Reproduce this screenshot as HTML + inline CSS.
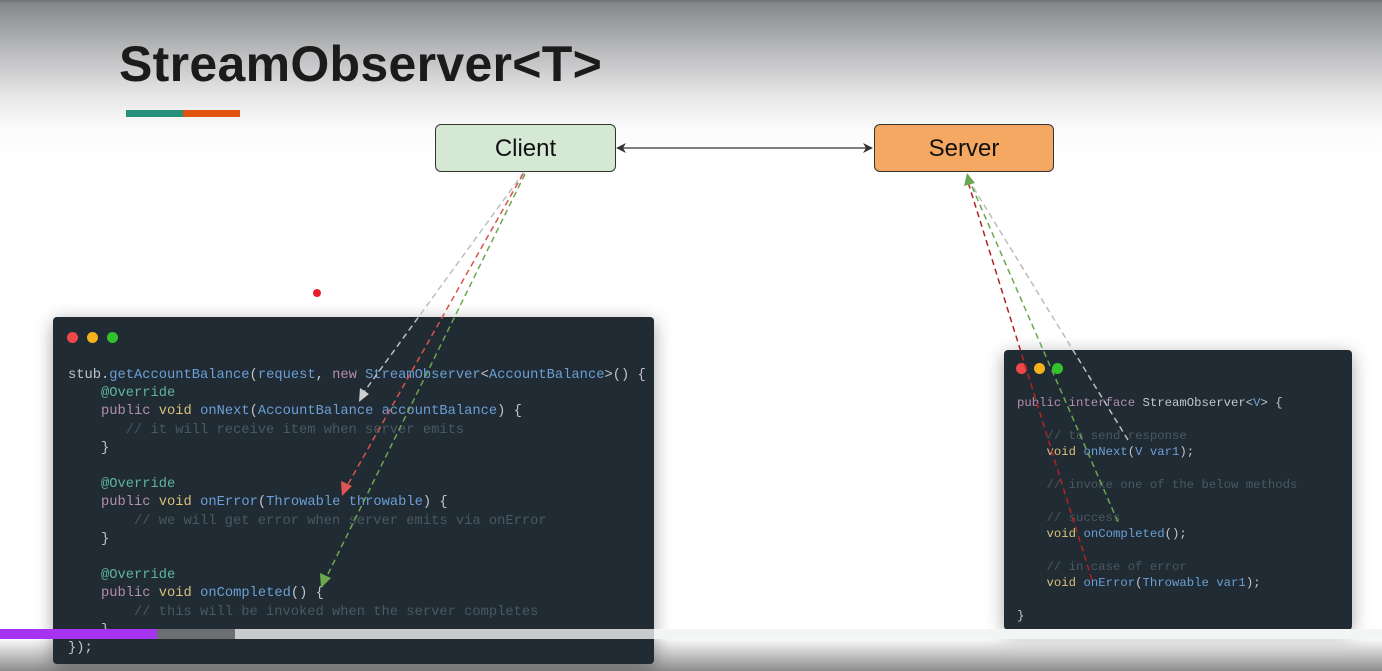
<!DOCTYPE html>
<html><head><meta charset="utf-8"><style>
html,body{margin:0;padding:0;}
body{width:1382px;height:671px;position:relative;overflow:hidden;font-family:"Liberation Sans",sans-serif;
background:linear-gradient(to bottom,#6f7174 0px,#86888b 4px,#b9babc 50px,#e6e6e7 95px,#fbfbfb 130px,#ffffff 160px,#ffffff 100%);}
.bot{position:absolute;left:0;top:639px;width:1382px;height:32px;background:linear-gradient(to bottom,#fafafa,#8c8c8c);}
.title{position:absolute;left:119px;top:35px;font-size:50px;font-weight:bold;color:#1b1b1b;letter-spacing:0.3px;}
.bar1{position:absolute;left:126px;top:110px;width:57px;height:7px;background:#24907a;}
.bar2{position:absolute;left:183px;top:110px;width:57px;height:7px;background:#e2520f;}
.box{position:absolute;top:124px;height:46px;border:1.5px solid #333;border-radius:6px;font-size:24px;text-align:center;line-height:48px;color:#111;}
.panel{position:absolute;background:#212b33;border-radius:4px;box-shadow:0 4px 18px rgba(0,0,0,0.35);}
.dot{position:absolute;width:11px;height:11px;border-radius:50%;}
pre{margin:0;position:absolute;font-family:"Liberation Mono",monospace;color:#c0c5ce;}
.k{color:#b48ead}.y{color:#d9c17a}.b{color:#6b9fd6}.t{color:#5fb3a1}.c{color:#4a5861}
</style></head><body>
<div class="title">StreamObserver&lt;T&gt;</div>
<div class="bar1"></div><div class="bar2"></div>
<div class="box" style="left:435px;width:179px;background:#d5e8d4;">Client</div>
<div class="box" style="left:874px;width:178px;background:#f4a862;">Server</div>
<div style="position:absolute;left:317px;top:293px;width:8px;height:8px;margin:-4px;border-radius:50%;background:#e8202c"></div>

<div class="panel" style="left:53px;top:317px;width:601px;height:347px;">
<div class="dot" style="left:14px;top:15px;background:#f0484a"></div>
<div class="dot" style="left:34px;top:15px;background:#f5b21a"></div>
<div class="dot" style="left:54px;top:15px;background:#32c22c"></div>
<pre style="left:15px;top:50px;font-size:13.75px;line-height:18.2px;">stub.<span class="b">getAccountBalance</span>(<span class="b">request</span>, <span class="k">new</span> <span class="b">StreamObserver</span>&lt;<span class="b">AccountBalance</span>&gt;() {
    <span class="t">@Override</span>
    <span class="k">public</span> <span class="y">void</span> <span class="b">onNext</span>(<span class="b">AccountBalance accountBalance</span>) {
       <span class="c">// it will receive item when server emits</span>
    }

    <span class="t">@Override</span>
    <span class="k">public</span> <span class="y">void</span> <span class="b">onError</span>(<span class="b">Throwable throwable</span>) {
        <span class="c">// we will get error when server emits via onError</span>
    }

    <span class="t">@Override</span>
    <span class="k">public</span> <span class="y">void</span> <span class="b">onCompleted</span>() {
        <span class="c">// this will be invoked when the server completes</span>
    }
});</pre>
</div>

<div class="panel" style="left:1004px;top:350px;width:348px;height:280px;">
<div class="dot" style="left:12px;top:13px;background:#f0484a"></div>
<div class="dot" style="left:30px;top:13px;background:#f5b21a"></div>
<div class="dot" style="left:48px;top:13px;background:#32c22c"></div>
<pre style="left:13px;top:45px;font-size:12.3px;line-height:16.4px;"><span class="k">public interface</span> StreamObserver&lt;<span class="b">V</span>&gt; {

    <span class="c">// to send response</span>
    <span class="y">void</span> <span class="b">onNext</span>(<span class="b">V var1</span>);

    <span class="c">// invoke one of the below methods</span>

    <span class="c">// success</span>
    <span class="y">void</span> <span class="b">onCompleted</span>();

    <span class="c">// in case of error</span>
    <span class="y">void</span> <span class="b">onError</span>(<span class="b">Throwable var1</span>);

}</pre>
</div>

<svg width="1382" height="671" style="position:absolute;left:0;top:0;">
<line x1="622" y1="148" x2="868" y2="148" stroke="#333" stroke-width="1.3"/>
<polygon points="616,148 626,143 623,148 626,153" fill="#333"/>
<polygon points="873,148 863,143 866,148 863,153" fill="#333"/>
<g stroke-width="1.5" stroke-dasharray="6,4" fill="none">
<line x1="524" y1="172" x2="364" y2="392" stroke="#bdbdbd"/>
<line x1="523" y1="174" x2="347" y2="486" stroke="#d9534f"/>
<line x1="525" y1="174" x2="326" y2="578" stroke="#6aa84f"/>
<line x1="1128" y1="440" x2="970" y2="182" stroke="#bdbdbd"/>
<line x1="1118" y1="522" x2="970" y2="182" stroke="#6aa84f"/>
<line x1="1092" y1="580" x2="968" y2="182" stroke="#b22222"/>
</g>
<polygon points="359,402 360,388 369,394" fill="#cfcfcf"/>
<polygon points="342,496 341,481 352,486" fill="#e05656"/>
<polygon points="321,588 320,573 331,578" fill="#6aa84f"/>
<polygon points="967,173 964,186 975,183" fill="#6aa84f"/>
</svg>

<div style="position:absolute;left:0;top:629px;width:1382px;height:10px;background:#f3f4f4"></div>
<div style="position:absolute;left:0;top:629px;width:654px;height:10px;background:#c8cacb"></div>
<div style="position:absolute;left:157px;top:629px;width:78px;height:10px;background:#6c6f72"></div>
<div style="position:absolute;left:0;top:629px;width:157px;height:10px;background:#a633f0"></div>
<div class="bot" style="z-index:-1"></div>
</body></html>
